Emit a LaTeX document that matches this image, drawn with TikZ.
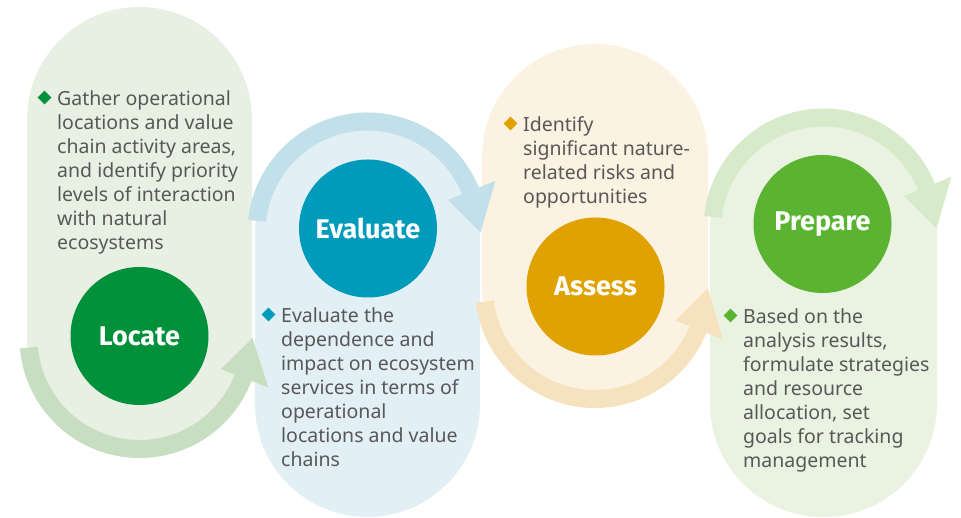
\documentclass[tikz,border=0pt]{standalone}
\usepackage{fontspec}
\setmainfont{Noto Sans}
\newfontfamily\stagefont{Fira Sans}
\usepackage{tikz}
\usetikzlibrary{shapes,positioning,calc}
\definecolor{locPale}{RGB}{232,240,228}
\definecolor{locBand}{RGB}{200,222,192}
\definecolor{locDark}{RGB}{0,145,58}
\definecolor{evaPale}{RGB}{226,239,245}
\definecolor{evaBand}{RGB}{194,224,234}
\definecolor{evaDark}{RGB}{0,155,187}
\definecolor{assPale}{RGB}{251,242,225}
\definecolor{assBand}{RGB}{246,226,190}
\definecolor{assDark}{RGB}{224,162,0}
\definecolor{prePale}{RGB}{234,243,226}
\definecolor{preBand}{RGB}{215,234,201}
\definecolor{preDark}{RGB}{91,180,49}
\definecolor{txtGray}{RGB}{89,87,87}
% curved band with a triangular head, round a stage centre
\newcommand{\loopband}[4]{%
  \fill[#4] ($(#1)+(#2:120pt)$) arc[start angle=#2, end angle=#3, radius=120pt]
    -- ($(#1)+(#3:138pt)$) -- ($(#1)+(0:113pt)$) -- ($(#1)+(#3:87pt)$)
    -- ($(#1)+(#3:102pt)$) arc[start angle=#3, end angle=#2, radius=102pt] -- cycle;}

\begin{document}
\begin{tikzpicture}[x=1pt, y=1pt,
    stage/.style={circle, minimum size=138pt, inner sep=0pt, text=white,
      font=\stagefont\bfseries\fontsize{27}{30}\selectfont},
    txt/.style={anchor=base west, inner sep=0pt, align=left, text=txtGray,
      font=\fontsize{19.5}{24}\selectfont},
    bullet/.style={diamond, minimum size=14pt, inner sep=0pt}]
    \useasboundingbox (0,0) rectangle (961,518);

    % pale backgrounds
    \fill[locPale, rounded corners=112.5pt] (27,67.5) rectangle (252,511);
    \fill[evaPale, rounded corners=112.5pt] (255,1) rectangle (480,397.5);
    \fill[assPale, rounded corners=113pt] (482,117.5) rectangle (708,474);
    \fill[prePale, rounded corners=113pt] (710,1) rectangle (937,402);

    % band centres
    \coordinate (locC) at (139.5,180);
    \coordinate (evaC) at (367.5,285.5);
    \coordinate (assC) at (595,230);
    \coordinate (preC) at (823.5,289.5);

    % curved arrows
    \loopband{locC}{185}{339}{locBand}
    \loopband{evaC}{174}{22}{evaBand}
    \loopband{assC}{187}{338}{assBand}
    \loopband{preC}{174}{22}{preBand}

    % stages
    \node[stage, fill=locDark] (locate) at (139.5,182) {Locate};
    \node[stage, fill=evaDark] (evaluate) at (368,289.5) {Evaluate};
    \node[stage, fill=assDark] (assess) at (595.5,231.5) {Assess};
    \node[stage, fill=preDark] (prepare) at (822.5,294) {Prepare};

    % descriptions (anchored at the last line)
    \node[txt] (loctxt) at (57,268) {Gather operational\\locations and value\\chain activity areas,\\and identify priority\\levels of interaction\\with natural\\ecosystems};
    \node[txt] (evatxt) at (281,51) {Evaluate the\\dependence and\\impact on ecosystem\\services in terms of\\operational\\locations and value\\chains};
    \node[txt] (asstxt) at (523,314) {Identify\\significant nature-\\related risks and\\opportunities};
    \node[txt] (pretxt) at (743,50) {Based on the\\analysis results,\\formulate strategies\\and resource\\allocation, set\\goals for tracking\\management};

    \node[bullet, fill=locDark] (locdot) at ($(loctxt.base west)+(-12.5,152.5)$) {};
    \node[bullet, fill=evaDark] (evadot) at ($(evatxt.base west)+(-12.5,152.5)$) {};
    \node[bullet, fill=assDark] (assdot) at ($(asstxt.base west)+(-12.5,80.5)$) {};
    \node[bullet, fill=preDark] (predot) at ($(pretxt.base west)+(-12.5,152.5)$) {};
\end{tikzpicture}
\end{document}
